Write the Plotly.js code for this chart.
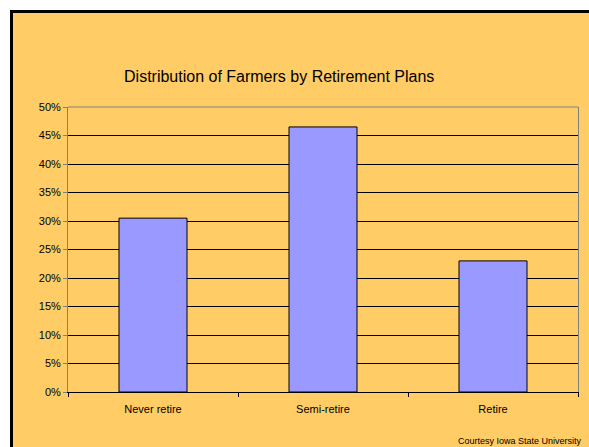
<!DOCTYPE html>
<html>
<head>
<meta charset="utf-8">
<script src="https://cdn.plot.ly/plotly-3.0.1.min.js"></script>
<style>
  html, body { margin: 0; padding: 0; background: #ffffff; }
  #wrap { position: relative; width: 589px; height: 447px; overflow: hidden; }
  #bg { position: absolute; left: 10px; top: 10px; width: 600px; height: 460px;
        background: #FFCC66; border-left: 3px solid #000; border-top: 3px solid #000; }
  #chart { position: absolute; left: 0; top: 0; width: 589px; height: 447px; }
</style>
</head>
<body>
<div id="wrap">
  <div id="bg"></div>
  <div id="chart"></div>
</div>
<script>
const categories = ["Never retire", "Semi-retire", "Retire"];
const shares = [0.305, 0.465, 0.23];
const yTickValues = [0, 0.05, 0.10, 0.15, 0.20, 0.25, 0.30, 0.35, 0.40, 0.45, 0.50];
const chartTitle = "Distribution of Farmers by Retirement Plans";
const sourceNote = "Courtesy Iowa State University";

const font = "Liberation Sans, Arial, sans-serif";

const trace = {
  type: "bar",
  x: categories,
  y: shares,
  marker: { color: "#9999FF", line: { color: "#000000", width: 1 } },
  hoverinfo: "x+y"
};

const layout = {
  width: 589, height: 447,
  margin: { l: 68, r: 11, t: 107, b: 55 },
  paper_bgcolor: "rgba(0,0,0,0)",
  plot_bgcolor: "rgba(0,0,0,0)",
  bargap: 0.6,
  showlegend: false,
  font: { family: font, color: "#000000", size: 11 },
  title: {
    text: chartTitle,
    font: { family: font, size: 16, color: "#000000" },
    x: 0.474, xanchor: "center",
    y: 1 - 76 / 447, yanchor: "middle"
  },
  xaxis: {
    type: "category",
    showline: true, linecolor: "#000000", linewidth: 1,
    ticks: "outside", tickson: "boundaries", ticklen: 4, tickcolor: "#000000",
    ticklabelstandoff: 7,
    tickfont: { family: font, size: 11, color: "#000000" },
    showgrid: false, zeroline: false, fixedrange: true
  },
  yaxis: {
    range: [0, 0.5],
    tickvals: yTickValues,
    tickformat: ".0%",
    showline: true, mirror: true, linecolor: "#808080", linewidth: 1,
    ticks: "outside", ticklen: 4, tickcolor: "#808080",
    showgrid: true, gridcolor: "#000000", gridwidth: 1,
    zeroline: false,
    tickfont: { family: font, size: 11, color: "#000000" },
    fixedrange: true
  },
  shapes: [
    { type: "line", xref: "paper", yref: "paper", x0: 0, x1: 1, y0: 1, y1: 1,
      line: { color: "#808080", width: 1 }, layer: "above" }
  ],
  annotations: [
    { text: sourceNote, xref: "paper", yref: "paper",
      x: (584 - 68) / (589 - 68 - 11), y: 0, xanchor: "right", yanchor: "middle",
      showarrow: false, font: { family: font, size: 9, color: "#000000" },
      yshift: -49 }
  ]
};

Plotly.newPlot("chart", [trace], layout, { displayModeBar: false, staticPlot: true });
</script>
</body>
</html>
